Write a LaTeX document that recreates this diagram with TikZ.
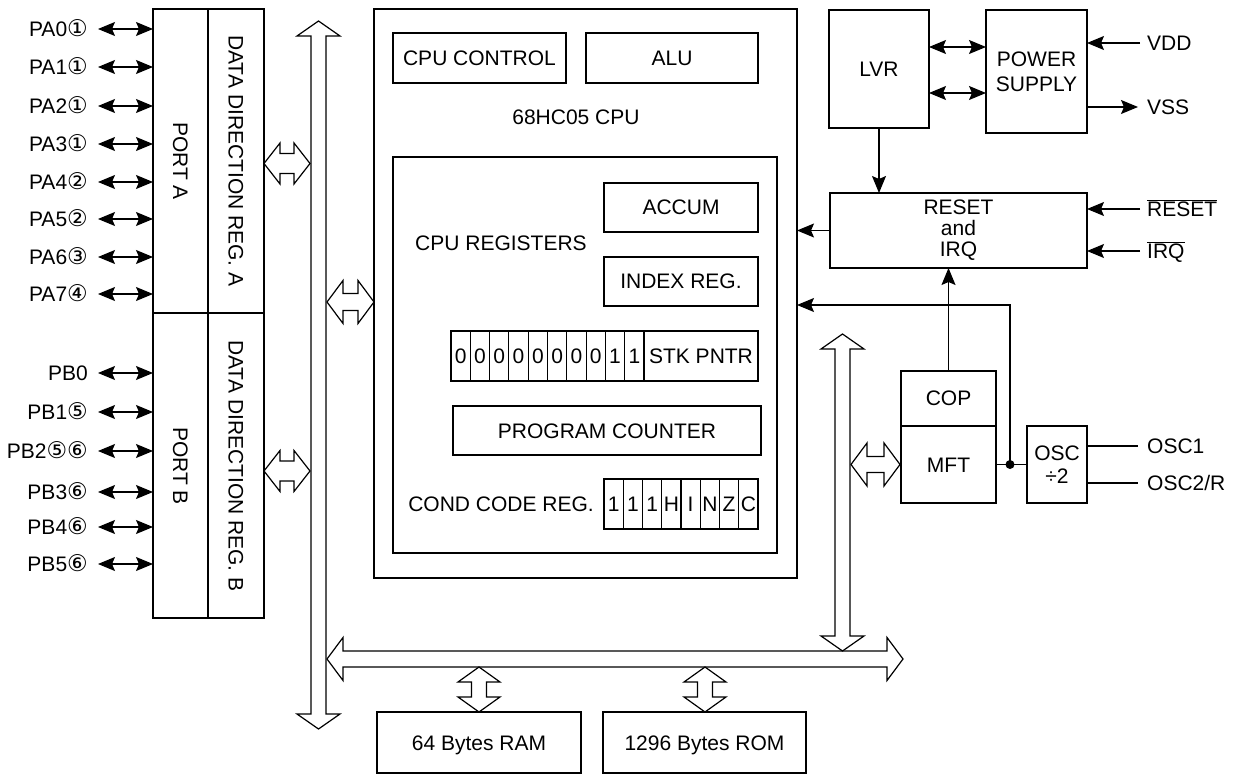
\documentclass[tikz,border=0pt]{standalone}
\usepackage{fontspec}
\setmainfont{Liberation Sans}
\newfontfamily\djv{DejaVu Sans}
\usetikzlibrary{arrows.meta}
\newcommand{\cd}[1]{{\djv\fontsize{23}{23}\selectfont #1}}
% x, ytop, ybottom, shaft half width, head half width, head length
\newcommand{\vbusarrow}[6]{\draw[bus] (#1,#2) -- (#1+#5,#2+#6) -- (#1+#4,#2+#6) -- (#1+#4,#3-#6) -- (#1+#5,#3-#6) -- (#1,#3) -- (#1-#5,#3-#6) -- (#1-#4,#3-#6) -- (#1-#4,#2+#6) -- (#1-#5,#2+#6) -- cycle;}
% xleft, xright, y, shaft half width, head half width, head length
\newcommand{\hbusarrow}[6]{\draw[bus] (#1,#3) -- (#1+#6,#3-#5) -- (#1+#6,#3-#4) -- (#2-#6,#3-#4) -- (#2-#6,#3-#5) -- (#2,#3) -- (#2-#6,#3+#5) -- (#2-#6,#3+#4) -- (#1+#6,#3+#4) -- (#1+#6,#3+#5) -- cycle;}
\begin{document}
\begin{tikzpicture}[x=1pt,y=-1pt,font=\fontsize{21}{21}\selectfont,
  box/.style={draw,line width=2pt,inner sep=0pt,outer sep=0pt,anchor=north west,text height=15pt,text depth=0pt},
  tbox/.style={draw,line width=1.1pt,inner sep=0pt,outer sep=0pt,anchor=north west,text height=15pt,text depth=0pt},
  pbox/.style={draw,line width=2pt,inner sep=0pt,outer sep=0pt,anchor=north west,align=center},
  lbl/.style={inner sep=0pt,text height=15pt,text depth=0pt},
  bus/.style={draw,line width=1.2pt,fill=white,line join=miter},
  sig/.style={line width=1.2pt,-{Stealth[length=17pt,width=14pt,inset=3pt]}},
  dsig/.style={line width=1.2pt,{Stealth[length=17pt,width=14pt,inset=3pt]}-{Stealth[length=17pt,width=14pt,inset=3pt]}},
  wire/.style={line width=1.2pt}]
\useasboundingbox (0,0) rectangle (1234,775);

% ---------------- ports ----------------
\node[box,minimum width=55,minimum height=304] (porta) at (153,9) {};
\node[box,minimum width=56,minimum height=304] (ddra) at (208,9) {};
\node[box,minimum width=55,minimum height=305] (portb) at (153,313) {};
\node[box,minimum width=56,minimum height=305] (ddrb) at (208,313) {};
\node[lbl,rotate=-90] (portal) at (180.5,161) {PORT A};
\node[lbl,rotate=-90] (ddral) at (236,161) {DATA DIRECTION REG. A};
\node[lbl,rotate=-90] (portbl) at (180.5,466) {PORT B};
\node[lbl,rotate=-90] (ddrbl) at (236,466) {DATA DIRECTION REG. B};

\foreach \n/\c/\y [count=\i] in {PA0/①/29,PA1/①/67,PA2/①/106,PA3/①/144,PA4/②/182,PA5/②/219,PA6/③/257,PA7/④/294}{
  \node[lbl,anchor=east] (pa\i) at (88,\y) {\n\cd{\c}};
  \draw[dsig] ([xshift=10pt]pa\i.east) -- (pa\i.east -| porta.west);
}
\foreach \n/\c/\y [count=\i] in {PB0//373,PB1/⑤/412,PB2/⑤⑥/451,PB3/⑥/492,PB4/⑥/527,PB5/⑥/564}{
  \node[lbl,anchor=east] (pb\i) at (88,\y) {\n\cd{\c}};
  \draw[dsig] ([xshift=10pt]pb\i.east) -- (pb\i.east -| portb.west);
}

% ---------------- CPU ----------------
\node[box,line width=2.4pt,minimum width=423,minimum height=569] (cpu) at (374,9) {};
\node[tbox,minimum width=173,minimum height=50] (cpuctl) at (393,33) {CPU CONTROL};
\node[tbox,minimum width=172,minimum height=50] (alu) at (586,33) {ALU};
\node[lbl] (cpul) at (576,117) {68HC05 CPU};
\node[tbox,minimum width=384,minimum height=396] (regs) at (393,157) {};
\node[lbl] (regl) at (501,243) {CPU REGISTERS};
\node[tbox,minimum width=154,minimum height=49] (accum) at (604,183) {ACCUM};
\node[tbox,minimum width=154,minimum height=49] (index) at (604,257) {INDEX REG.};
\foreach \d [count=\i from 0] in {0,0,0,0,0,0,0,0,1,1}
  \node[tbox,minimum width=19.3,minimum height=50] (sp\i) at (451+19.3*\i,331) {\d};
\node[tbox,minimum width=114,minimum height=50] (stk) at (644,331) {STK PNTR};
\node[tbox,minimum width=308,minimum height=49] (pc) at (453,406) {PROGRAM COUNTER};
\node[lbl,anchor=east] (ccrl) at (594,504) {COND CODE REG.};
\foreach \d [count=\i from 0] in {1,1,1,H,I,N,Z,C}
  \node[tbox,minimum width=19.25,minimum height=50] (cc\i) at (604+19.25*\i,479) {\d};

% ---------------- memory ----------------
\node[box,minimum width=204,minimum height=61] (ram) at (377,712) {64 Bytes RAM};
\node[box,minimum width=203,minimum height=61] (rom) at (603,712) {1296 Bytes ROM};

% ---------------- right side ----------------
\node[box,minimum width=100,minimum height=118] (lvr) at (829,10) {LVR};
\node[pbox,minimum width=101,minimum height=123,font=\fontsize{21}{25}\selectfont] (pwr) at (986,10) {POWER\\SUPPLY};
\node[pbox,minimum width=257,minimum height=75] (rst) at (830,193) {RESET\\and\\IRQ};
\node[box,minimum width=95,minimum height=55] (cop) at (901,371) {COP};
\node[box,minimum width=95,minimum height=77] (mft) at (901,426) {MFT};
\node[pbox,minimum width=60,minimum height=77,font=\fontsize{21}{23}\selectfont] (osc) at (1027,426) {OSC\\÷2};

\node[lbl,anchor=west] (vdd) at (1147,43) {VDD};
\node[lbl,anchor=west] (vss) at (1147,107) {VSS};
\node[lbl,anchor=west] (rstpin) at (1147,209) {$\overline{\mbox{RESET}}$};
\node[lbl,anchor=west] (irqpin) at (1147,251) {$\overline{\mbox{IRQ}}$};
\node[lbl,anchor=west] (osc1) at (1147,446) {OSC1};
\node[lbl,anchor=west] (osc2) at (1147,483) {OSC2/R};

\draw[dsig] (lvr.east |- 0,47) -- (pwr.west |- 0,47);
\draw[dsig] (lvr.east |- 0,93) -- (pwr.west |- 0,93);
\draw[sig] ([xshift=-7pt]vdd.west) -- (vdd.west -| pwr.east);
\draw[sig] (vss.west -| pwr.east) -- ([xshift=-9pt]vss.west);
\draw[sig] ([xshift=-7pt]rstpin.west) -- (rstpin.west -| rst.east);
\draw[sig] ([xshift=-7pt]irqpin.west) -- (irqpin.west -| rst.east);
\draw[sig] (lvr.south) -- (lvr.south |- rst.north);
\draw[sig] (rst.west) -- (rst.west -| cpu.east);
\draw[sig] (cop.north) -- (cop.north |- rst.south);
\draw[wire] (mft.east) -- (osc.west);
\node[circle,fill,inner sep=0pt,minimum size=9] (dot) at (1010,464.5) {};
\coordinate (cpuin) at (797,305);
\draw[sig] (dot.center) |- (cpuin);
\draw[wire] (osc.east |- osc1) -- ([xshift=-9pt]osc1.west);
\draw[wire] (osc.east |- osc2) -- ([xshift=-9pt]osc2.west);

% ---------------- buses ----------------
\vbusarrow{318.5}{21}{729}{7.5}{21.5}{15}
\hbusarrow{327}{903}{659}{8}{21.5}{16}
\vbusarrow{842.5}{334}{651}{7.5}{21.5}{15}
\hbusarrow{264}{310}{163.5}{10}{20.5}{16}
\hbusarrow{264}{310}{471}{10}{20.5}{16}
\hbusarrow{327}{374}{302}{8.5}{21.5}{16}
\hbusarrow{851}{900}{464.5}{8}{21.5}{16}
\vbusarrow{479}{667}{712}{7.5}{21}{15}
\vbusarrow{705}{667}{712}{7.5}{21}{15}
\end{tikzpicture}
\end{document}
